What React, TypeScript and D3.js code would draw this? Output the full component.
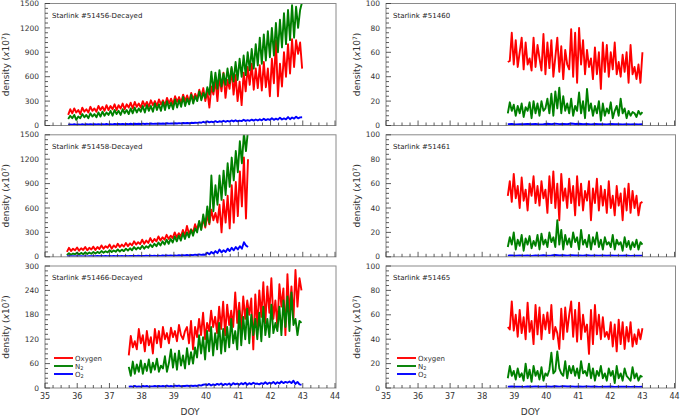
import React, { useEffect, useRef } from 'react';
import * as d3 from 'd3';

// DOY spans of each satellite (first and last sample)
const range51456 = [35.72, 42.98];
const range51458 = [35.68, 41.3];
const range51466 = [37.6, 42.96];
const rangeRight = [38.8, 43.0];

const doyTicks = [35, 36, 37, 38, 39, 40, 41, 42, 43, 44];
const ticks1500 = [0, 300, 600, 900, 1200, 1500];
const ticks300 = [0, 60, 120, 180, 240, 300];
const ticks100 = [0, 20, 40, 60, 80, 100];

const oxygen51456 = [
  130, 200, 150, 210, 160, 190, 140, 220, 170, 200, 160, 230, 180, 210, 170, 240,
  190, 230, 180, 250, 190, 240, 200, 260, 190, 250, 210, 270, 200, 260, 220, 280,
  210, 290, 230, 270, 220, 300, 240, 290, 230, 310, 250, 300, 240, 320, 260, 310,
  250, 340, 270, 330, 260, 360, 290, 350, 280, 380, 300, 370, 290, 400, 320, 390,
  330, 440, 350, 460, 300, 420, 220, 480, 380, 560, 300, 600, 420, 650, 340, 560,
  450, 700, 380, 620, 300, 540, 250, 650, 420, 720, 500, 760, 440, 700, 460, 740,
  430, 780, 470, 700, 360, 820, 520, 1050, 360, 760, 480, 900, 600, 1000, 640, 1060,
  720, 1050, 880, 1020, 700,
];
const n2_51456 = [
  80, 120, 90, 130, 70, 110, 90, 140, 100, 130, 90, 150, 110, 140, 100, 160,
  110, 170, 120, 160, 130, 180, 120, 190, 140, 180, 130, 200, 150, 190, 140, 210,
  150, 220, 160, 210, 170, 240, 160, 250, 180, 240, 170, 270, 190, 260, 180, 290,
  190, 300, 210, 280, 200, 320, 220, 310, 230, 350, 240, 330, 260, 380, 270, 360,
  300, 420, 310, 400, 340, 470, 380, 660, 420, 650, 450, 680, 480, 640, 500, 700,
  520, 720, 540, 780, 560, 820, 600, 860, 620, 900, 680, 940, 700, 1000, 740, 1080,
  760, 1120, 800, 1160, 840, 1200, 860, 1260, 900, 1300, 960, 1380, 1000, 1420, 1050, 1480,
  1080, 1460, 1200, 1420, 1520,
];
const o2_51456 = [
  10, 14, 10, 15, 11, 14, 10, 15, 11, 15, 12, 16, 12, 15, 12, 16,
  13, 17, 13, 18, 14, 17, 14, 19, 15, 18, 15, 20, 16, 19, 16, 21,
  17, 22, 18, 21, 18, 23, 19, 22, 20, 24, 20, 23, 21, 25, 22, 24,
  22, 27, 23, 26, 24, 28, 25, 29, 26, 30, 27, 31, 28, 33, 30, 34,
  32, 38, 34, 46, 36, 50, 38, 48, 40, 54, 42, 52, 44, 58, 46, 56,
  48, 62, 50, 64, 52, 60, 54, 70, 56, 66, 58, 72, 60, 74, 62, 76,
  64, 82, 66, 78, 68, 90, 70, 84, 72, 96, 74, 88, 76, 104, 78, 98,
  84, 108, 88, 100, 102,
];

const oxygen51458 = [
  60, 110, 70, 100, 80, 115, 75, 105, 85, 120, 80, 110, 90, 125, 85, 120,
  95, 140, 100, 130, 110, 150, 100, 140, 115, 160, 120, 150, 125, 170, 130, 165,
  140, 190, 150, 180, 155, 210, 160, 200, 170, 230, 180, 220, 190, 250, 200, 240,
  210, 270, 220, 260, 230, 300, 240, 290, 250, 330, 260, 380, 280, 340, 300, 400,
  330, 430, 340, 470, 360, 520, 400, 580, 450, 540, 420, 640, 300, 700, 420, 750,
  350, 880, 420, 920, 500, 1050, 620, 1220, 470, 1200,
];
const n2_51458 = [
  20, 45, 25, 40, 30, 50, 28, 48, 32, 55, 35, 52, 38, 58, 40, 60,
  45, 70, 50, 68, 55, 80, 58, 78, 62, 90, 65, 88, 70, 100, 75, 105,
  80, 120, 90, 115, 95, 135, 100, 130, 110, 150, 120, 160, 130, 175, 140, 190,
  150, 210, 160, 220, 175, 250, 190, 260, 200, 290, 220, 300, 240, 330, 260, 350,
  300, 440, 330, 520, 380, 620, 420, 1000, 560, 880, 640, 1000, 700, 1060, 760, 1150,
  860, 1220, 940, 1300, 1040, 1420, 1150, 1520, 1300, 1560,
];
const o2_51458 = [
  4, 7, 4, 6, 5, 7, 5, 8, 5, 7, 5, 8, 6, 8, 6, 9,
  6, 9, 6, 10, 7, 9, 7, 10, 7, 11, 8, 10, 8, 11, 8, 12,
  9, 12, 9, 13, 10, 12, 10, 14, 11, 13, 11, 15, 12, 14, 12, 16,
  13, 17, 14, 16, 14, 18, 15, 19, 16, 20, 17, 22, 18, 24, 20, 26,
  22, 30, 24, 28, 26, 50, 30, 60, 40, 70, 45, 90, 55, 80, 60, 100,
  70, 110, 80, 120, 90, 130, 100, 180, 140, 120,
];

const oxygen51466 = [
  80, 128, 100, 115, 95, 145, 110, 130, 90, 140, 105, 125, 85, 145, 110, 140,
  100, 150, 120, 135, 110, 148, 125, 140, 115, 155, 130, 120, 140, 150, 110, 165,
  95, 150, 125, 170, 130, 185, 120, 160, 140, 190, 150, 175, 135, 200, 145, 212,
  130, 205, 155, 190, 150, 235, 160, 210, 145, 225, 170, 215, 180, 220, 95, 230,
  150, 240, 175, 260, 160, 250, 185, 270, 170, 215, 150, 255, 200, 245, 130, 280,
  180, 250, 170, 290, 200, 270, 240,
];
const n2_51466 = [
  52, 30, 65, 35, 58, 40, 68, 35, 60, 42, 70, 38, 62, 45, 72, 40,
  55, 48, 78, 40, 62, 95, 50, 85, 45, 92, 55, 80, 48, 98, 58, 88,
  60, 100, 75, 130, 85, 125, 70, 140, 90, 150, 80, 135, 95, 160, 85, 145,
  90, 150, 100, 170, 110, 140, 95, 190, 105, 175, 120, 195, 110, 180, 130, 170,
  120, 185, 115, 200, 130, 170, 125, 205, 135, 160, 140, 200, 130, 215, 150, 225,
  140, 235, 155, 170, 130, 165, 160,
];
const o2_51466 = [
  3, 4, 3, 5, 3, 4, 3, 5, 4, 5, 3, 4, 4, 5, 4, 5,
  4, 5, 4, 6, 4, 5, 4, 6, 5, 6, 4, 5, 5, 6, 5, 6,
  5, 6, 5, 7, 6, 8, 9, 7, 10, 6, 9, 7, 10, 8, 11, 7,
  10, 8, 11, 7, 12, 9, 11, 8, 12, 9, 13, 8, 12, 9, 13, 10,
  11, 9, 12, 10, 14, 10, 13, 11, 15, 10, 14, 11, 16, 12, 15, 13,
  16, 12, 18, 10, 15, 9, 8,
];

const oxygen51460 = [
  52, 53, 76, 50, 70, 48, 60, 72, 46, 68, 50, 55, 45, 72, 48, 66,
  55, 45, 75, 42, 68, 47, 70, 40, 56, 72, 44, 65, 38, 62, 50, 46,
  79, 40, 76, 35, 80, 50, 70, 42, 62, 48, 55, 38, 64, 42, 60, 30,
  68, 44, 66, 40, 60, 46, 68, 42, 52, 40, 58, 44, 60, 35, 66, 42,
  48, 38, 50, 35, 60,
];
const n2_51460 = [
  10, 19, 12, 17, 8, 16, 10, 18, 7, 15, 12, 19, 6, 20, 10, 18,
  8, 20, 12, 14, 22, 10, 26, 8, 28, 14, 31, 10, 24, 12, 18, 10,
  22, 8, 16, 12, 27, 10, 20, 6, 30, 12, 18, 8, 16, 10, 20, 4,
  18, 8, 14, 10, 19, 6, 12, 16, 8, 22, 10, 14, 6, 12, 8, 11,
  10, 7, 12, 9, 11,
];
const o2_51460 = [
  1, 1.2, 0.9, 1.1, 1, 1.3, 1, 1.2, 0.9, 1.1, 1.4, 1, 1.5, 1.1, 1.3, 1, 1.6, 1.2,
  1.4, 1, 1.2, 0.9, 1.3, 1, 1.1, 0.9, 1.2, 1, 1.1, 0.9, 1, 0.8, 1, 0.9, 1,
];

const oxygen51461 = [
  50, 62, 45, 68, 48, 58, 40, 65, 46, 55, 38, 60, 50, 66, 44, 58,
  42, 62, 48, 55, 36, 66, 44, 70, 40, 60, 30, 68, 46, 56, 40, 64,
  44, 58, 34, 66, 42, 60, 38, 54, 46, 62, 30, 56, 44, 64, 38, 58,
  42, 55, 36, 62, 40, 50, 34, 58, 42, 52, 30, 56, 38, 60, 36, 54,
  40, 50, 34, 44, 45,
];
const n2_51461 = [
  8, 16, 10, 20, 6, 14, 9, 18, 5, 15, 10, 17, 7, 13, 9, 18,
  6, 19, 10, 14, 8, 20, 12, 16, 8, 30, 10, 22, 6, 18, 10, 15,
  8, 20, 12, 16, 6, 22, 10, 14, 8, 18, 6, 16, 10, 20, 8, 14,
  6, 16, 10, 12, 8, 18, 6, 14, 10, 12, 5, 16, 8, 13, 6, 12,
  8, 14, 6, 12, 10,
];
const o2_51461 = [
  1, 1.1, 0.9, 1.2, 1, 1.1, 0.8, 1.2, 1, 1.3, 1, 1.2, 1.5, 1.1, 1.3, 1, 1.4, 1.1,
  1.2, 1, 1.3, 0.9, 1.1, 1, 1.2, 0.9, 1.1, 1, 1, 0.9, 1.1, 0.8, 1, 0.9, 1,
];

const oxygen51465 = [
  50, 48, 71, 47, 60, 42, 64, 45, 58, 40, 70, 46, 55, 36, 68, 44,
  66, 40, 60, 48, 62, 45, 68, 40, 50, 45, 32, 65, 40, 66, 46, 60,
  71, 42, 64, 38, 70, 40, 60, 46, 52, 28, 64, 36, 68, 44, 60, 40,
  58, 42, 46, 40, 54, 34, 52, 30, 56, 36, 54, 32, 50, 38, 54, 34,
  44, 36, 48, 40, 49,
];
const n2_51465 = [
  8, 18, 10, 14, 7, 16, 9, 12, 6, 20, 8, 15, 5, 18, 10, 14,
  7, 17, 6, 12, 10, 15, 29, 12, 14, 30, 16, 12, 10, 22, 8, 18,
  12, 18, 10, 16, 8, 22, 12, 14, 10, 20, 8, 16, 6, 14, 10, 18,
  8, 12, 6, 16, 10, 14, 4, 18, 8, 12, 6, 16, 10, 8, 6, 17,
  8, 12, 6, 10, 9,
];
const o2_51465 = [
  1, 1.2, 1, 1.1, 0.9, 1.2, 1, 1.3, 1, 1.1, 1.2, 1, 1.4, 1.1, 1.5, 1.2, 1.3, 1,
  1.2, 1, 1.3, 1, 1.2, 0.9, 1.1, 1, 1.2, 0.9, 1, 1, 1.1, 0.9, 1, 0.9, 1,
];

const seriesNames = ['Oxygen', 'N2', 'O2'];
const seriesColors = ['#ff0000', '#008000', '#0000ff'];

const panels = [
  { title: 'Starlink #51456-Decayed', col: 0, row: 0, yMax: 1500, ticks: ticks1500, range: range51456, data: [oxygen51456, n2_51456, o2_51456] },
  { title: 'Starlink #51458-Decayed', col: 0, row: 1, yMax: 1500, ticks: ticks1500, range: range51458, data: [oxygen51458, n2_51458, o2_51458] },
  { title: 'Starlink #51466-Decayed', col: 0, row: 2, yMax: 300, ticks: ticks300, range: range51466, data: [oxygen51466, n2_51466, o2_51466] },
  { title: 'Starlink #51460', col: 1, row: 0, yMax: 100, ticks: ticks100, range: rangeRight, data: [oxygen51460, n2_51460, o2_51460] },
  { title: 'Starlink #51461', col: 1, row: 1, yMax: 100, ticks: ticks100, range: rangeRight, data: [oxygen51461, n2_51461, o2_51461] },
  { title: 'Starlink #51465', col: 1, row: 2, yMax: 100, ticks: ticks100, range: rangeRight, data: [oxygen51465, n2_51465, o2_51465] },
];

const colX = [[45, 335], [386, 674.5]];
const rowY = [3.5, 134.8, 266];
const panelH = 122;
const font = 'DejaVu Sans, sans-serif';

const Chart = () => {
  const ref = useRef<SVGSVGElement | null>(null);

  useEffect(() => {
    if (!ref.current) return;
    const svg = d3.select(ref.current);
    svg.selectAll('*').remove();

    panels.forEach((p, pi) => {
      const [x0, x1] = colX[p.col];
      const top = rowY[p.row];
      const bottom = top + panelH;
      const x = d3.scaleLinear().domain([35, 44]).range([x0, x1]);
      const y = d3.scaleLinear().domain([0, p.yMax]).range([bottom, top]);
      const g = svg.append('g');

      g.append('clipPath').attr('id', `clip${pi}`)
        .append('rect').attr('x', x0).attr('y', top).attr('width', x1 + 1 - x0).attr('height', panelH);

      // series lines
      p.data.forEach((vals, si) => {
        const idx = d3.scaleLinear().domain([0, vals.length - 1]).range(p.range);
        const line = d3.line<number>()
          .x((d, i) => x(idx(i)))
          .y((d) => y(d));
        g.append('path')
          .datum(vals)
          .attr('clip-path', `url(#clip${pi})`)
          .attr('d', line)
          .attr('fill', 'none')
          .attr('stroke', seriesColors[si])
          .attr('stroke-width', 1.9)
          .attr('stroke-linejoin', 'round');
      });

      // frame
      g.append('rect')
        .attr('x', x0).attr('y', top)
        .attr('width', x1 + 1 - x0).attr('height', panelH)
        .attr('fill', 'none').attr('stroke', '#8a8a8a').attr('stroke-width', 1);

      // x ticks (inward), major every 1, minor every 0.25
      const xMinor = d3.range(35, 44.01, 0.25);
      g.selectAll('.xt').data(xMinor).enter().append('line')
        .attr('x1', (d) => x(d)).attr('x2', (d) => x(d))
        .attr('y1', bottom)
        .attr('y2', (d) => bottom - (Math.abs(d - Math.round(d)) < 0.01 ? 5 : 3))
        .attr('stroke', '#333').attr('stroke-width', 0.8);

      // y ticks
      const step = p.ticks[1] / 5;
      const yMinor = d3.range(0, p.yMax + step / 2, step);
      g.selectAll('.yt').data(yMinor).enter().append('line')
        .attr('x1', x0)
        .attr('x2', (d, i) => x0 + (i % 5 === 0 ? 5 : 3))
        .attr('y1', (d) => y(d)).attr('y2', (d) => y(d))
        .attr('stroke', '#333').attr('stroke-width', 0.8);

      g.selectAll('.yl').data(p.ticks).enter().append('text')
        .attr('x', x0 - 6).attr('y', (d) => y(d) + 2.6)
        .attr('text-anchor', 'end')
        .attr('font-family', font).attr('font-size', 7.5).attr('fill', '#333')
        .text((d) => d);

      if (p.row === 2) {
        g.selectAll('.xl').data(doyTicks).enter().append('text')
          .attr('x', (d) => x(d)).attr('y', bottom + 10.5)
          .attr('text-anchor', 'middle')
          .attr('font-family', font).attr('font-size', 8).attr('fill', '#333')
          .text((d) => d);
        g.append('text')
          .attr('x', (x0 + x1) / 2).attr('y', 415)
          .attr('text-anchor', 'middle')
          .attr('font-family', font).attr('font-size', 9).attr('fill', '#333')
          .text('DOY');

        // legend
        const lx = p.col === 0 ? 54 : 397;
        seriesNames.forEach((name, si) => {
          const ly = 358 + si * 8;
          g.append('line')
            .attr('x1', lx).attr('x2', lx + 19).attr('y1', ly).attr('y2', ly)
            .attr('stroke', seriesColors[si]).attr('stroke-width', 1.9);
          const t = g.append('text')
            .attr('x', lx + 21).attr('y', ly + 2.5)
            .attr('font-family', font).attr('font-size', 7).attr('fill', '#333');
          if (name === 'Oxygen') {
            t.text(name);
          } else {
            t.append('tspan').text(name[0]);
            t.append('tspan').attr('font-size', 5).attr('dy', 1.5).text(name[1]);
          }
        });
      }

      // title
      g.append('text')
        .attr('x', x0 + 7).attr('y', top + 14)
        .attr('font-family', font).attr('font-size', 7).attr('fill', '#222')
        .text(p.title);

      // y label
      const lx = p.col === 0 ? 9 : 360;
      const cy = (top + bottom) / 2;
      const lab = g.append('text')
        .attr('transform', `translate(${lx},${cy}) rotate(-90)`)
        .attr('text-anchor', 'middle')
        .attr('font-family', font).attr('font-size', 9).attr('fill', '#333');
      lab.append('tspan').text('density (');
      lab.append('tspan').attr('font-style', 'italic').text('x');
      lab.append('tspan').text('10');
      lab.append('tspan').attr('font-size', 6).attr('dy', -3.5).text('7');
      lab.append('tspan').attr('dy', 3.5).text(')');
    });
  }, []);

  return (
    <svg
      ref={ref}
      width={685}
      height={416}
      style={{ position: 'absolute', left: 0, top: 0, display: 'block' }}
    />
  );
};

export default function App() {
  return <Chart />;
}
